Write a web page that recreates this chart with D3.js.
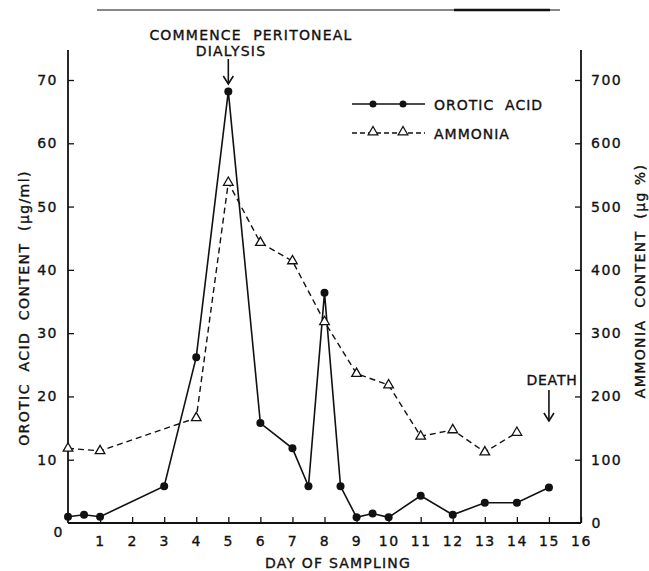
<!DOCTYPE html>
<html>
<head>
<meta charset="utf-8">
<script src="https://cdn.jsdelivr.net/npm/d3@7"></script>
<style>
  body { margin: 0; background: #fff; }
  text { font-family: "DejaVu Sans", sans-serif; fill: #111; stroke: #111; stroke-width: 0.35px; white-space: pre; }
</style>
</head>
<body>
<div id="chart"></div>
<script>
// Data
const oroticDays = [0, 0.5, 1, 3, 4, 5, 6, 7, 7.5, 8, 8.5, 9, 9.5, 10, 11, 12, 13, 14, 15];
const oroticAcid = [1, 1.3, 1, 5.8, 26.2, 68.2, 15.8, 11.8, 5.8, 36.4, 5.8, 0.9, 1.5, 0.9, 4.3, 1.3, 3.2, 3.2, 5.6];
const ammoniaDays = [0, 1, 4, 5, 6, 7, 8, 9, 10, 11, 12, 13, 14];
const ammonia = [118, 114, 166, 538, 443, 414, 318, 236, 218, 137, 147, 112, 143];
const dayTicks = [1, 2, 3, 4, 5, 6, 7, 8, 9, 10, 11, 12, 13, 14, 15, 16];
const leftTicks = [10, 20, 30, 40, 50, 60, 70];
const rightTicks = [100, 200, 300, 400, 500, 600, 700];

const width = 649, height = 571;

const svg = d3.select('#chart').append('svg')
  .attr('width', width)
  .attr('height', height);

const x = d3.scaleLinear().domain([0, 16]).range([68, 581]);
const yL = d3.scaleLinear().domain([0, 70]).range([523, 80]);
const yR = d3.scaleLinear().domain([0, 700]).range([523, 80]);

// header rule at top of the page
svg.append('line').attr('x1', 97).attr('x2', 560).attr('y1', 10).attr('y2', 10)
  .attr('stroke', '#111').attr('stroke-width', 1.2);
svg.append('line').attr('x1', 454).attr('x2', 550).attr('y1', 10).attr('y2', 10)
  .attr('stroke', '#111').attr('stroke-width', 2.4);

// axes
const axisStyle = g => {
  g.select('.domain').remove();
  g.selectAll('.tick line').attr('stroke', '#111').attr('stroke-width', 1.3);
  g.selectAll('.tick text').style('font-size', '14px').style('letter-spacing', '1.5px').attr('fill', '#111');
};

svg.append('g')
  .attr('transform', 'translate(68,0)')
  .call(d3.axisLeft(yL).tickValues(leftTicks).tickSize(-6).tickPadding(10))
  .call(axisStyle);

svg.append('g')
  .attr('transform', 'translate(581,0)')
  .call(d3.axisRight(yR).tickValues(rightTicks).tickSize(-6).tickPadding(10))
  .call(axisStyle);

svg.append('g')
  .attr('transform', 'translate(0,523)')
  .call(d3.axisBottom(x).tickValues(dayTicks).tickSize(-6).tickPadding(13))
  .call(axisStyle);

// frame lines
svg.append('line').attr('x1', 68).attr('x2', 68).attr('y1', 50).attr('y2', 523)
  .attr('stroke', '#111').attr('stroke-width', 1.8);
svg.append('line').attr('x1', 581).attr('x2', 581).attr('y1', 50).attr('y2', 523)
  .attr('stroke', '#111').attr('stroke-width', 1.8);
svg.append('line').attr('x1', 68).attr('x2', 581).attr('y1', 523).attr('y2', 523)
  .attr('stroke', '#111').attr('stroke-width', 2);

// zero labels
svg.append('text').attr('x', 58).attr('y', 537).attr('text-anchor', 'middle')
  .style('font-size', '14px').text('0');
svg.append('text').attr('x', 596).attr('y', 528).attr('text-anchor', 'middle')
  .style('font-size', '14px').text('0');

// axis titles
svg.append('text').attr('transform', 'translate(29,308) rotate(-90)')
  .attr('text-anchor', 'middle').style('font-size', '14px').style('letter-spacing', '1.4px')
  .text('OROTIC  ACID  CONTENT  (µg/ml)');
svg.append('text').attr('transform', 'translate(645,281) rotate(-90)')
  .attr('text-anchor', 'middle').style('font-size', '14px').style('letter-spacing', '1.4px')
  .text('AMMONIA  CONTENT  (µg %)');
svg.append('text').attr('x', 338).attr('y', 568).attr('text-anchor', 'middle')
  .style('font-size', '14px').style('letter-spacing', '1.2px')
  .text('DAY OF SAMPLING');

// series
const oroticData = oroticDays.map((d, i) => ({ day: d, v: oroticAcid[i] }));
const ammoniaData = ammoniaDays.map((d, i) => ({ day: d, v: ammonia[i] }));

svg.append('path').datum(ammoniaData)
  .attr('fill', 'none').attr('stroke', '#111').attr('stroke-width', 1.4)
  .attr('stroke-dasharray', '6,4')
  .attr('d', d3.line().x(d => x(d.day)).y(d => yR(d.v)));

svg.append('path').datum(oroticData)
  .attr('fill', 'none').attr('stroke', '#111').attr('stroke-width', 1.6)
  .attr('d', d3.line().x(d => x(d.day)).y(d => yL(d.v)));

const tri = d3.symbol().type(d3.symbolTriangle).size(40);
svg.selectAll('.amm').data(ammoniaData).enter().append('path')
  .attr('class', 'amm')
  .attr('transform', d => `translate(${x(d.day)},${yR(d.v)})`)
  .attr('d', tri).attr('fill', '#fff').attr('stroke', '#111').attr('stroke-width', 1.3);

svg.selectAll('.oro').data(oroticData).enter().append('circle')
  .attr('class', 'oro')
  .attr('cx', d => x(d.day)).attr('cy', d => yL(d.v)).attr('r', 4)
  .attr('fill', '#111');

// legend
const lg = svg.append('g');
lg.append('line').attr('x1', 352).attr('x2', 425).attr('y1', 104).attr('y2', 104)
  .attr('stroke', '#111').attr('stroke-width', 1.6);
[373, 403].forEach(cx => lg.append('circle').attr('cx', cx).attr('cy', 104).attr('r', 3.5).attr('fill', '#111'));
lg.append('text').attr('x', 434).attr('y', 110).style('font-size', '14px').style('letter-spacing', '1px')
  .text('OROTIC  ACID');
lg.append('line').attr('x1', 352).attr('x2', 425).attr('y1', 133).attr('y2', 133)
  .attr('stroke', '#111').attr('stroke-width', 1.3).attr('stroke-dasharray', '5,3');
[373, 403].forEach(cx => lg.append('path').attr('transform', `translate(${cx},132)`)
  .attr('d', tri).attr('fill', '#fff').attr('stroke', '#111').attr('stroke-width', 1.3));
lg.append('text').attr('x', 434).attr('y', 139).style('font-size', '14px').style('letter-spacing', '1px')
  .text('AMMONIA');

// annotations
svg.append('text').attr('x', 251).attr('y', 40).attr('text-anchor', 'middle')
  .style('font-size', '14px').style('letter-spacing', '1.2px').text('COMMENCE  PERITONEAL');
svg.append('text').attr('x', 231).attr('y', 56).attr('text-anchor', 'middle')
  .style('font-size', '14px').style('letter-spacing', '1.2px').text('DIALYSIS');
const arrow = (ax, y1, y2) => {
  svg.append('line').attr('x1', ax).attr('x2', ax).attr('y1', y1).attr('y2', y2)
    .attr('stroke', '#111').attr('stroke-width', 1.6);
  svg.append('path').attr('d', `M${ax - 5},${y2 - 8} L${ax},${y2} L${ax + 5},${y2 - 8}`)
    .attr('fill', 'none').attr('stroke', '#111').attr('stroke-width', 1.6);
};
arrow(x(5), 59, 84);
svg.append('text').attr('x', 552).attr('y', 385).attr('text-anchor', 'middle')
  .style('font-size', '14px').style('letter-spacing', '0.8px').text('DEATH');
arrow(x(15), 390, 421);
</script>
</body>
</html>
